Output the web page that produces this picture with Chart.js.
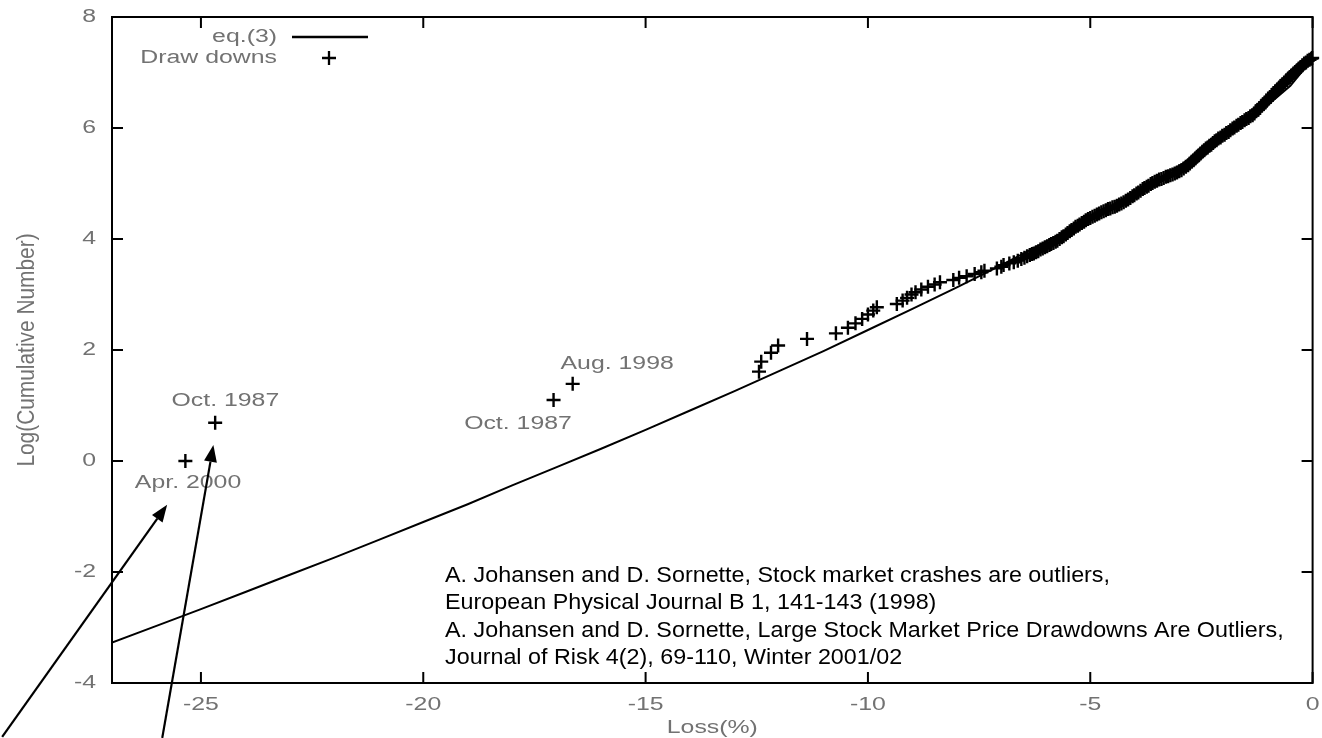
<!DOCTYPE html>
<html>
<head>
<meta charset="utf-8">
<title>Draw downs and eq.(3)</title>
<script src="https://cdn.jsdelivr.net/npm/chart.js@4/dist/chart.umd.min.js"></script>
<style>
  html, body { margin: 0; padding: 0; background: #ffffff; }
  canvas { display: block; }
</style>
</head>
<body>
<canvas id="chart" width="1322" height="738"></canvas>
<script>
// Axis ticks
const lossTicks = [-25, -20, -15, -10, -5, 0];
const logTicks = [-4, -2, 0, 2, 4, 6, 8];

// eq.(3): fitted stretched-exponential curve, Loss(%) vs Log(Cumulative Number)
const fitLoss = [-27, -26, -25, -24, -23, -22, -21, -20, -19, -18, -17, -16, -15, -14,
                 -13, -12, -11, -10, -9, -8, -7, -6, -5, -4, -3, -2, -1, -0.5, 0];
const fitLog = [-3.27, -2.97, -2.67, -2.36, -2.05, -1.74, -1.42, -1.10, -0.78, -0.44,
                -0.11, 0.22, 0.56, 0.91, 1.26, 1.62, 1.98, 2.36, 2.74, 3.13, 3.53,
                3.95, 4.38, 4.84, 5.32, 5.84, 6.42, 6.76, 7.25];

// Draw downs, largest first
const drawdownLoss = [
  -25.35, -24.68, -17.07, -16.64, -12.45, -12.40, -12.18, -12.02, -11.37, -10.72,
  -10.45, -10.28, -10.13, -10.00, -9.88, -9.80, -9.35, -9.22, -9.12, -9.02,
  -8.93, -8.80, -8.65, -8.50, -8.38, -8.08, -7.95, -7.78, -7.60, -7.45,
  -7.38, -7.10, -7.00, -6.95, -6.82, -6.72, -6.63, -6.55, -6.48, -6.42,
  -6.36, -6.31, -6.27, -6.22, -6.17, -6.12, -6.07, -6.02, -5.97, -5.92, -5.88, -5.83, -5.78, -5.74,
  -5.69, -5.64, -5.60, -5.55, -5.51, -5.46, -5.42, -5.37, -5.33, -5.28, -5.24, -5.19, -5.14, -5.10,
  -5.05, -5.00, -4.95, -4.90, -4.85, -4.80, -4.75, -4.70, -4.65, -4.60,
  -4.55, -4.50, -4.45, -4.40, -4.35, -4.30, -4.25, -4.20, -4.15, -4.10,
  -4.05, -4.01, -3.96, -3.92, -3.87, -3.82, -3.78, -3.73, -3.69, -3.64, -3.60,
  -3.55, -3.50, -3.45, -3.40, -3.35, -3.30, -3.25, -3.20, -3.15, -3.10, -3.05, -3.00, -2.95, -2.90, -2.85,
  -2.80, -2.76, -2.72, -2.68, -2.64, -2.60, -2.56, -2.52, -2.48, -2.44, -2.40, -2.36, -2.32, -2.28, -2.24, -2.20, -2.16,
  -2.12, -2.07, -2.03, -1.98, -1.94, -1.89, -1.85, -1.80, -1.76, -1.71, -1.67, -1.62, -1.58, -1.53, -1.49, -1.44, -1.40, -1.35,
  -1.31, -1.27, -1.23, -1.19, -1.15, -1.11, -1.07, -1.03, -0.99, -0.95, -0.91, -0.87, -0.83, -0.79, -0.75, -0.71, -0.67,
  -0.63, -0.59, -0.55, -0.51, -0.47, -0.43, -0.39, -0.35, -0.31, -0.27, -0.23, -0.19, -0.15, -0.11, -0.07, -0.03, -0.01
];
const drawdownLog = [
  0.00, 0.69, 1.10, 1.39, 1.61, 1.79, 1.95, 2.08, 2.20, 2.30,
  2.40, 2.48, 2.56, 2.64, 2.71, 2.77, 2.83, 2.89, 2.94, 3.00,
  3.04, 3.09, 3.14, 3.18, 3.22, 3.26, 3.30, 3.33, 3.37, 3.40,
  3.43, 3.47, 3.50, 3.53, 3.56, 3.58, 3.61, 3.64, 3.66, 3.69,
  3.71, 3.73, 3.74, 3.76, 3.78, 3.81, 3.83, 3.85, 3.87, 3.89, 3.91, 3.93, 3.95, 3.97,
  4.00, 4.03, 4.05, 4.08, 4.11, 4.14, 4.16, 4.19, 4.22, 4.24, 4.26, 4.29, 4.31, 4.34,
  4.36, 4.38, 4.40, 4.42, 4.44, 4.46, 4.48, 4.50, 4.52, 4.54,
  4.55, 4.57, 4.58, 4.60, 4.62, 4.64, 4.66, 4.69, 4.71, 4.74,
  4.77, 4.79, 4.82, 4.84, 4.87, 4.90, 4.92, 4.94, 4.96, 4.99, 5.01,
  5.03, 5.05, 5.07, 5.08, 5.10, 5.12, 5.13, 5.15, 5.16, 5.18, 5.20, 5.22, 5.24, 5.27, 5.30,
  5.33, 5.36, 5.39, 5.42, 5.45, 5.48, 5.51, 5.54, 5.57, 5.60, 5.63, 5.65, 5.68, 5.70, 5.73, 5.76, 5.78,
  5.81, 5.83, 5.86, 5.88, 5.91, 5.93, 5.96, 5.99, 6.01, 6.04, 6.06, 6.09, 6.11, 6.14, 6.16, 6.18, 6.21, 6.23,
  6.26, 6.30, 6.33, 6.36, 6.40, 6.43, 6.46, 6.49, 6.53, 6.56, 6.60, 6.63, 6.66, 6.70, 6.73, 6.76, 6.79,
  6.82, 6.86, 6.89, 6.92, 6.95, 6.98, 7.01, 7.04, 7.07, 7.10, 7.13, 7.16, 7.18, 7.21, 7.23, 7.25, 7.26
];

// Event names placed next to the largest draw downs (centre of text, in axis units)
const eventNames = ['Oct. 1987', 'Apr. 2000', 'Aug. 1998', 'Oct. 1987'];
const eventLoss = [-24.45, -25.29, -15.64, -17.87];
const eventLog = [1.08, -0.40, 1.75, 0.67];

// Arrows pointing at the two largest draw downs: [tailLoss, tailLog, tipLoss, tipLog]
const arrowSpecs = [
  [-29.47, -4.97, -25.76, -0.79],
  [-25.87, -4.99, -24.72, 0.29]
];

const legendNames = ['eq.(3)', 'Draw downs'];
const xTitle = 'Loss(%)';
const yTitle = 'Log(Cumulative Number)';
const references = [
  'A. Johansen and D. Sornette, Stock market crashes are outliers,',
  'European Physical Journal B 1, 141-143 (1998)',
  'A. Johansen and D. Sornette, Large Stock Market Price Drawdowns Are Outliers,',
  'Journal of Risk 4(2), 69-110, Winter 2001/02'
];
const referenceLoss = -19.51;
const referenceLog = [-2.18, -2.67, -3.17, -3.66];

const GRAY = '#727272';
const PLOT_FONT = '18px "Liberation Sans", Arial, Helvetica, sans-serif';
const WIDE = 1.38;

function wideText(ctx, text, x, y, align, sx, sy) {
  ctx.save();
  ctx.translate(x, y);
  ctx.scale(sx, sy || 1);
  ctx.textAlign = align;
  ctx.fillText(text, 0, 0);
  ctx.restore();
}

function drawPlus(ctx, x, y, r) {
  ctx.beginPath();
  ctx.moveTo(x - r, y); ctx.lineTo(x + r, y);
  ctx.moveTo(x, y - r); ctx.lineTo(x, y + r);
  ctx.stroke();
}

const decorations = {
  id: 'decorations',
  beforeDraw(chart) {
    const ctx = chart.ctx;
    ctx.save();
    ctx.fillStyle = '#ffffff';
    ctx.fillRect(0, 0, chart.width, chart.height);
    ctx.restore();
  },
  afterDatasetsDraw(chart) {
    const { ctx, chartArea: a, scales: { x, y } } = chart;
    ctx.save();

    // plot frame
    ctx.strokeStyle = '#000000';
    ctx.lineWidth = 2;
    ctx.strokeRect(a.left, a.top, a.right - a.left, a.bottom - a.top);

    // inward tick marks on all four sides
    const len = 11;
    ctx.beginPath();
    x.ticks.forEach(t => {
      const px = x.getPixelForValue(t.value);
      ctx.moveTo(px, a.bottom); ctx.lineTo(px, a.bottom - len);
      ctx.moveTo(px, a.top); ctx.lineTo(px, a.top + len);
    });
    y.ticks.forEach(t => {
      const py = y.getPixelForValue(t.value);
      ctx.moveTo(a.left, py); ctx.lineTo(a.left + len, py);
      ctx.moveTo(a.right, py); ctx.lineTo(a.right - len, py);
    });
    ctx.stroke();

    // tick labels
    ctx.fillStyle = GRAY;
    ctx.font = PLOT_FONT;
    ctx.textBaseline = 'middle';
    x.ticks.forEach(t => wideText(ctx, String(t.value), x.getPixelForValue(t.value), a.bottom + 22, 'center', WIDE));
    y.ticks.forEach(t => wideText(ctx, String(t.value), a.left - 16, y.getPixelForValue(t.value), 'right', WIDE));

    // axis titles
    wideText(ctx, xTitle, (a.left + a.right) / 2, a.bottom + 45, 'center', WIDE);
    ctx.save();
    ctx.translate(27, (a.top + a.bottom) / 2);
    ctx.rotate(-Math.PI / 2);
    ctx.scale(1.16, WIDE);
    ctx.textAlign = 'center';
    ctx.fillText(yTitle, 0, 0);
    ctx.restore();

    // event names
    eventNames.forEach((name, i) => {
      wideText(ctx, name, x.getPixelForValue(eventLoss[i]), y.getPixelForValue(eventLog[i]), 'center', WIDE);
    });

    // key
    const keyRight = a.left + 165;
    wideText(ctx, legendNames[0], keyRight, a.top + 20, 'right', WIDE);
    wideText(ctx, legendNames[1], keyRight, a.top + 41, 'right', WIDE);
    ctx.strokeStyle = '#000000';
    ctx.lineWidth = 2.3;
    ctx.beginPath();
    ctx.moveTo(keyRight + 15, a.top + 20);
    ctx.lineTo(keyRight + 91, a.top + 20);
    ctx.stroke();
    drawPlus(ctx, keyRight + 52, a.top + 41, 7);

    // references
    ctx.fillStyle = '#000000';
    ctx.font = '22px "Liberation Sans", Arial, Helvetica, sans-serif';
    ctx.textBaseline = 'alphabetic';
    references.forEach((line, i) => {
      wideText(ctx, line, x.getPixelForValue(referenceLoss), y.getPixelForValue(referenceLog[i]), 'left', 1.06);
    });

    // arrows
    ctx.strokeStyle = '#000000';
    ctx.fillStyle = '#000000';
    ctx.lineWidth = 2.2;
    arrowSpecs.forEach(([x0, y0, x1, y1]) => {
      const ax = x.getPixelForValue(x0), ay = y.getPixelForValue(y0);
      const bx = x.getPixelForValue(x1), by = y.getPixelForValue(y1);
      const ang = Math.atan2(by - ay, bx - ax);
      const headLen = 17, headHalf = 6.5;
      const hx = bx - headLen * Math.cos(ang), hy = by - headLen * Math.sin(ang);
      ctx.beginPath();
      ctx.moveTo(ax, ay);
      ctx.lineTo(hx, hy);
      ctx.stroke();
      ctx.beginPath();
      ctx.moveTo(bx, by);
      ctx.lineTo(hx - headHalf * Math.sin(ang), hy + headHalf * Math.cos(ang));
      ctx.lineTo(hx + headHalf * Math.sin(ang), hy - headHalf * Math.cos(ang));
      ctx.closePath();
      ctx.fill();
    });

    ctx.restore();
  }
};

const fitPoints = fitLoss.map((v, i) => ({ x: v, y: fitLog[i] }));
const drawdownPoints = drawdownLoss.map((v, i) => ({ x: v, y: drawdownLog[i] }));

new Chart(document.getElementById('chart'), {
  type: 'scatter',
  data: {
    datasets: [
      {
        label: legendNames[0],
        data: fitPoints,
        showLine: true,
        borderColor: '#000000',
        borderWidth: 2,
        pointRadius: 0,
        tension: 0,
        order: 2
      },
      {
        label: legendNames[1],
        data: drawdownPoints,
        pointStyle: 'cross',
        pointRadius: 7,
        borderColor: '#000000',
        backgroundColor: '#000000',
        borderWidth: 2.4,
        clip: false,
        order: 1
      }
    ]
  },
  options: {
    responsive: false,
    animation: false,
    devicePixelRatio: 1,
    events: [],
    layout: { padding: { left: 112, right: 9, top: 17, bottom: 55 } },
    plugins: {
      legend: { display: false },
      tooltip: { enabled: false },
      title: { display: false }
    },
    scales: {
      x: {
        type: 'linear',
        min: -27,
        max: 0,
        afterBuildTicks: s => { s.ticks = lossTicks.map(v => ({ value: v })); },
        ticks: { display: false },
        grid: { display: false, drawTicks: false },
        border: { display: false }
      },
      y: {
        type: 'linear',
        min: -4,
        max: 8,
        afterBuildTicks: s => { s.ticks = logTicks.map(v => ({ value: v })); },
        ticks: { display: false },
        grid: { display: false, drawTicks: false },
        border: { display: false }
      }
    }
  },
  plugins: [decorations]
});
</script>
</body>
</html>
